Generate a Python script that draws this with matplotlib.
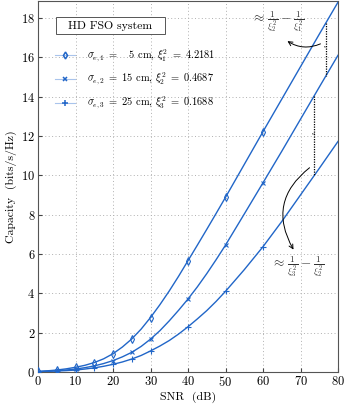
import matplotlib
matplotlib.use("Agg")
import matplotlib.pyplot as plt
from matplotlib.lines import Line2D
from matplotlib.patches import FancyArrowPatch, Rectangle

plt.rcParams['font.family'] = ['cmr10', 'DejaVu Serif']
plt.rcParams['mathtext.fontset'] = 'cm'
plt.rcParams['axes.formatter.use_mathtext'] = True

# ---- data ----
snr = [0, 2.5, 5, 7.5, 10, 12.5, 15, 17.5, 20, 22.5, 25, 27.5, 30, 32.5, 35, 37.5,
       40, 42.5, 45, 47.5, 50, 55, 60, 65, 70, 75, 80]
cap1 = [0.03, 0.06, 0.1, 0.16, 0.24, 0.34, 0.48, 0.67, 0.93, 1.27, 1.68, 2.18, 2.77, 3.42,
        4.12, 4.87, 5.66, 6.45, 7.25, 8.06, 8.88, 10.55, 12.22, 13.87, 15.52, 17.17, 18.8]
cap2 = [0.02, 0.04, 0.07, 0.1, 0.15, 0.22, 0.31, 0.43, 0.58, 0.77, 1.0, 1.3, 1.67, 2.1,
        2.6, 3.14, 3.71, 4.33, 5.0, 5.71, 6.45, 8.03, 9.62, 11.22, 12.85, 14.48, 16.1]
cap3 = [0.01, 0.03, 0.05, 0.07, 0.1, 0.15, 0.21, 0.29, 0.39, 0.51, 0.66, 0.84, 1.07, 1.32,
        1.6, 1.93, 2.3, 2.7, 3.12, 3.59, 4.1, 5.2, 6.37, 7.65, 9.0, 10.35, 11.72]
marker_snr = [0, 5, 10, 15, 20, 25, 30, 40, 50, 60]
labels = [r"$\sigma_{e,1}\ =\ $  5 cm, $\xi_1^2\ =\ 4.2181$",
          r"$\sigma_{e,2}\ =\ $15 cm, $\xi_2^2\ =\ 0.4687$",
          r"$\sigma_{e,3}\ =\ $25 cm, $\xi_3^2\ =\ 0.1688$"]
markers = ['d', 'x', '+']
marker_sizes = [4.0, 3.5, 4.5]
xticks = [0, 10, 20, 30, 40, 50, 60, 70, 80]
yticks = [0, 2, 4, 6, 8, 10, 12, 14, 16, 18]

color = '#2166c8'
light = '#a9c4ec'

fig = plt.figure(figsize=(3.48, 4.07), dpi=100)
ax = fig.add_axes([38/348, 35/407, 300/348, 371/407])

handles = []
for cap, mk, ms, lab in zip([cap1, cap2, cap3], markers, marker_sizes, labels):
    ax.plot(snr, cap, color=color, lw=1.0, zorder=3)
    mvals = [cap[snr.index(s)] for s in marker_snr]
    if mk == 'd':
        ax.plot(marker_snr, mvals, ls='none', marker='d', ms=ms, mfc='none',
                mec=color, mew=0.8, zorder=4)
    else:
        ax.plot(marker_snr, mvals, ls='none', marker=mk, ms=ms, mec=color,
                mew=0.8, zorder=4)
    handles.append(Line2D([0], [0], color=light, lw=0.8, marker=mk,
                          ms=3.5 if mk != '+' else 4.5,
                          mfc='none' if mk == 'd' else color,
                          mec=color, mew=1.1, label=lab))

ax.set_xlim(0, 80)
ax.set_ylim(0, 18.86)
ax.set_xticks(xticks)
ax.set_yticks(yticks)
ax.grid(True, ls=(0, (1, 2.5)), color='#b0b0b0', lw=0.7)
ax.tick_params(direction='in', length=3, labelsize=9, color='#444444', pad=2)
for sp in ax.spines.values():
    sp.set_color('#555555')
    sp.set_linewidth(0.8)
ax.set_xlabel('SNR  (dB)', fontsize=8.5, labelpad=2)
ax.set_ylabel('Capacity  (bits/s/Hz)', fontsize=8.5, labelpad=3)

# title box
ax.add_patch(Rectangle((4.8, 17.18), 29.1, 0.87, fc='white', ec='#555555', lw=0.7, zorder=6))
ax.text(19.35, 17.6, 'HD FSO system', fontsize=8.5, ha='center', va='center', zorder=7)

leg = ax.legend(handles=handles, loc='upper left', bbox_to_anchor=(0.057, 0.875),
                frameon=False, fontsize=7.5, handlelength=1.9, handletextpad=1.15,
                labelspacing=0.75, borderpad=0, borderaxespad=0)
leg.set_zorder(6)

# annotation 1 between curve 1 and 2 at ~77 dB
x1 = 76.8
f1 = (x1 - 75) / 5
y1a = cap1[snr.index(75)] + (cap1[snr.index(80)] - cap1[snr.index(75)]) * f1
y1b = cap2[snr.index(75)] + (cap2[snr.index(80)] - cap2[snr.index(75)]) * f1
ax.plot([x1, x1], [y1a, y1b], color='black', lw=0.9, ls=(0, (1, 1)), zorder=5)
ax.text(x1 - 0.3, (y1a + y1b) / 2, '}', fontsize=6, ha='center', va='center', zorder=5)
ax.add_patch(FancyArrowPatch((76.0, 16.74), (65.9, 16.9),
                             connectionstyle='arc3,rad=-0.3', arrowstyle='->,head_length=3,head_width=1.5',
                             color='black', lw=0.7, zorder=5))
ax.text(64.0, 17.8, r"$\approx\,\frac{1}{\xi_2^2}-\frac{1}{\xi_1^2}$", fontsize=9.5,
        ha='center', va='center', color='#333333', zorder=5)

# annotation 2 between curve 2 and 3 at ~73.6 dB
x2 = 73.6
f2 = (x2 - 70) / 5
y2a = cap2[snr.index(70)] + (cap2[snr.index(75)] - cap2[snr.index(70)]) * f2
y2b = cap3[snr.index(70)] + (cap3[snr.index(75)] - cap3[snr.index(70)]) * f2
ax.plot([x2, x2], [y2a, y2b], color='black', lw=0.9, ls=(0, (1, 1)), zorder=5)
ax.text(x2 - 0.3, (y2a + y2b) / 2, '}', fontsize=6, ha='center', va='center', zorder=5)
ax.add_patch(FancyArrowPatch((73.0, 10.47), (68.5, 6.1),
                             connectionstyle='arc3,rad=0.45', arrowstyle='->,head_length=3,head_width=1.5',
                             color='black', lw=0.7, zorder=5))
ax.text(69.2, 5.35, r"$\approx\,\frac{1}{\xi_3^2}-\frac{1}{\xi_2^2}$", fontsize=9.5,
        ha='center', va='center', color='#333333', zorder=5)

fig.savefig('out.png', dpi=100)
